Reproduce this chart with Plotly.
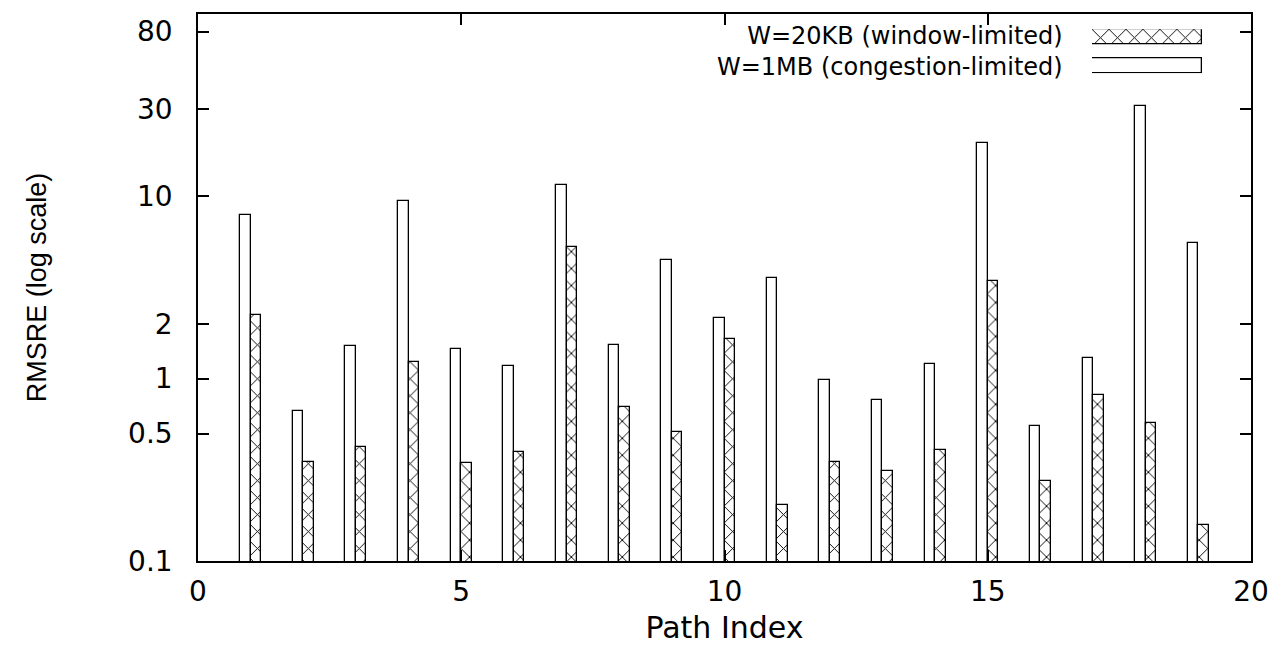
import plotly.graph_objects as go

# ---- data ----
paths = list(range(1, 20))
w20kb = [2.24, 0.35, 0.42, 1.23, 0.345, 0.396, 5.27, 0.70, 0.51, 1.64,
         0.204, 0.35, 0.312, 0.406, 3.44, 0.275, 0.81, 0.568, 0.158]
w1mb = [7.94, 0.663, 1.52, 9.47, 1.45, 1.17, 11.5, 1.53, 4.48, 2.15,
        3.58, 0.98, 0.765, 1.2, 19.7, 0.547, 1.30, 31.1, 5.52]
ytick_vals = [0.1, 0.5, 1, 2, 10, 30, 80]
ytick_text = ["0.1", "0.5", "1", "2", "10", "30", "80"]
xtick_vals = [0, 5, 10, 15, 20]
series_names = ["W=20KB (window-limited)", "W=1MB (congestion-limited)"]

WIDE = "DejaVu Sans, Verdana, sans-serif"
FONT = "Liberation Sans, Arial, Helvetica, sans-serif"
hatch = dict(shape="x", size=12, solidity=0.15, fgcolor="black", bgcolor="white", fillmode="replace")

fig = go.Figure()
fig.add_trace(go.Bar(
    x=paths, y=w1mb, width=0.2, offset=-0.2, name=series_names[1],
    marker=dict(color="white", line=dict(color="black", width=1.3)),
    showlegend=False))
fig.add_trace(go.Bar(
    x=paths, y=w20kb, width=0.2, offset=0.0, name=series_names[0],
    marker=dict(color="white", pattern=hatch, line=dict(color="black", width=1.3)),
    showlegend=False))

# custom legend samples (text on the left, sample box on the right)
fig.add_trace(go.Bar(
    x=[1], y=[1], orientation="h", width=0.51, xaxis="x2", yaxis="y2",
    marker=dict(color="white", pattern=hatch, line=dict(color="black", width=1.3)),
    showlegend=False, hoverinfo="skip"))
fig.add_trace(go.Bar(
    x=[1], y=[0], orientation="h", width=0.51, xaxis="x2", yaxis="y2",
    marker=dict(color="white", line=dict(color="black", width=1.3)),
    showlegend=False, hoverinfo="skip"))

fig.add_annotation(
    text="<br>".join(series_names), xref="paper", yref="y2", x=0.8234, y=0.5,
    xanchor="right", yanchor="middle", align="right", showarrow=False,
    font=dict(family=WIDE, size=24, color="black"))

axis_common = dict(
    showline=True, linecolor="black", linewidth=1.5, mirror="allticks",
    ticks="inside", ticklen=11, tickwidth=1.5, tickcolor="black",
    showgrid=False, zeroline=False,
    tickfont=dict(family=WIDE, size=28, color="black"))

fig.update_layout(
    width=1272, height=639,
    margin=dict(l=190, r=29, t=4, b=86),
    paper_bgcolor="white", plot_bgcolor="white",
    barmode="overlay", bargap=0,
    xaxis=dict(range=[0, 20], tickvals=xtick_vals,
               ticklabelstandoff=5,
               title=dict(text="Path Index", font=dict(family=WIDE, size=30, color="black"), standoff=10),
               **axis_common),
    yaxis=dict(type="log", range=[-1, 2], tickvals=ytick_vals, ticktext=ytick_text,
               ticklabelstandoff=18,
               title=dict(text="RMSRE (log scale)", font=dict(family=FONT, size=27, color="black"), standoff=74),
               **axis_common),
    xaxis2=dict(domain=[0.849, 0.9535], range=[0, 1], anchor="y2", visible=False, fixedrange=True),
    yaxis2=dict(domain=[0.8916, 0.9721], range=[-0.255, 1.255], anchor="x2", visible=False, fixedrange=True),
)

fig.write_html("out.html")
